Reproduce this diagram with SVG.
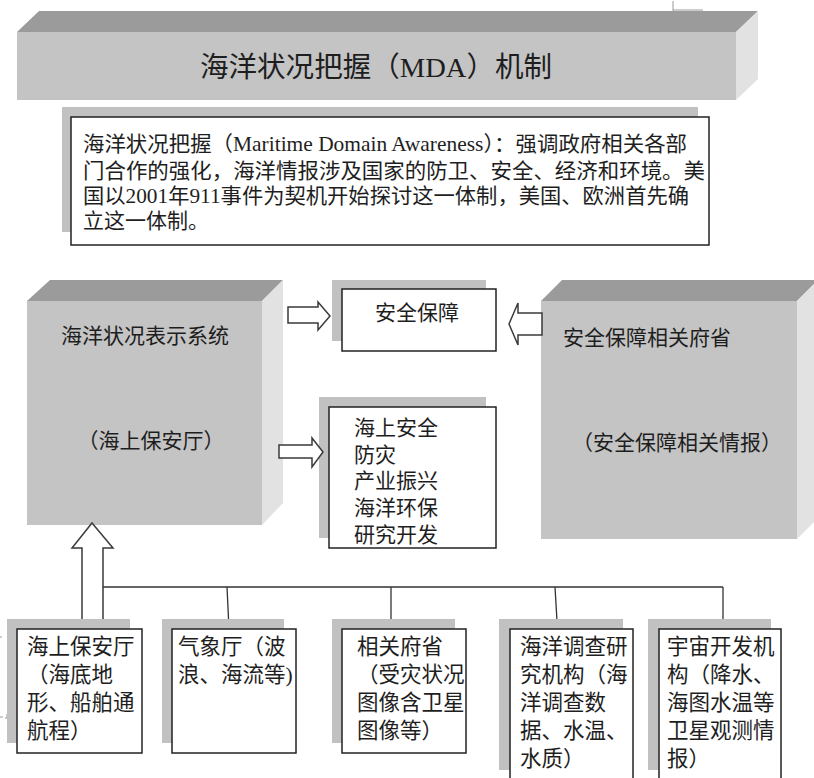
<svg xmlns="http://www.w3.org/2000/svg" width="814" height="778" viewBox="0 0 814 778">
<defs>
<style>
.front{fill:#c4c4c4}
.top{fill:#9b9b9b}
.side{fill:#e2e2e2}
.shadow{fill:#c1c1c1}
.box{fill:#ffffff;stroke:#222222;stroke-width:1.5}
.arrow{fill:#ffffff;stroke:#3a3a3a;stroke-width:1.5;stroke-linejoin:miter}
.line{fill:none;stroke:#333333;stroke-width:1.3}
.art{fill:none;stroke:#9a9a9a;stroke-width:1}
text{font-family:"Liberation Serif","Noto Sans CJK SC",serif;fill:#1e1e1e}
.t21{font-size:21px}
.t22{font-size:21.5px}
</style>
</defs>
<rect width="814" height="778" fill="#ffffff"/>

<!-- artifacts -->
<path class="art" d="M673,1 V11 M673,10 H703"/>
<path class="art" d="M0,637 H2 M0,717 H3 M7,714 V718 H5"/>
<path class="art" d="M652,680 H657"/>

<g id="banner">
<polygon class="top" points="17,32 39,11 758,11 736,32"/>
<polygon class="side" points="736,32 758,11 758,79 736,100"/>
<rect class="front" x="17" y="32" width="719" height="68"/>
<text x="200" y="77" font-size="28" textLength="352" lengthAdjust="spacingAndGlyphs">海洋状况把握（MDA）机制</text>
</g>

<g id="definition">
<rect class="shadow" x="62" y="107" width="636" height="125"/>
<rect class="box" x="71" y="117" width="638" height="128"/>
<text class="t21" x="83" y="151" textLength="604" lengthAdjust="spacingAndGlyphs">海洋状况把握（Maritime Domain Awareness）：强调政府相关各部</text>
<text class="t21" x="83" y="178" textLength="622" lengthAdjust="spacingAndGlyphs">门合作的强化，海洋情报涉及国家的防卫、安全、经济和环境。美</text>
<text class="t21" x="83" y="203" textLength="606" lengthAdjust="spacingAndGlyphs">国以2001年911事件为契机开始探讨这一体制，美国、欧洲首先确</text>
<text class="t21" x="83" y="228">立这一体制。</text>
</g>

<g id="msi-system">
<polygon class="top" points="27,301 50,280 283,280 262,301"/>
<polygon class="side" points="262,301 283,280 283,503 262,525"/>
<rect class="front" x="27" y="301" width="235" height="224"/>
<text class="t21" x="145" y="343" text-anchor="middle">海洋状况表示系统</text>
<text class="t21" x="151" y="448" text-anchor="middle">（海上保安厅）</text>
</g>

<g id="security-ministries">
<polygon class="top" points="541,301 562,280 818,280 797,301"/>
<polygon class="side" points="797,301 818,280 818,518 797,539"/>
<rect class="front" x="541" y="301" width="256" height="238"/>
<text class="t21" x="563" y="345">安全保障相关府省</text>
<text class="t21" x="677" y="450" text-anchor="middle">（安全保障相关情报）</text>
</g>

<g id="security">
<rect class="shadow" x="332" y="280" width="154" height="61"/>
<rect class="box" x="342" y="289" width="154" height="62"/>
<text class="t21" x="417" y="320" text-anchor="middle">安全保障</text>
</g>

<g id="uses">
<rect class="shadow" x="319" y="397" width="167" height="141"/>
<rect class="box" x="329" y="407" width="167" height="141"/>
<text class="t21" x="354" y="435">海上安全</text>
<text class="t21" x="354" y="462">防灾</text>
<text class="t21" x="354" y="488">产业振兴</text>
<text class="t21" x="354" y="515">海洋环保</text>
<text class="t21" x="354" y="542">研究开发</text>
</g>

<g id="connectors">
<path class="line" d="M103,587 H723 M227,587 L229,629 M391,587 V621 M555,587 L557,621 M723,587 V621"/>
<polygon class="arrow" points="92,523 113,548 103,548 103,621 82,621 82,548 72,548"/>
<polygon class="arrow" points="288,307 318,307 318,302 330,316 318,330 318,323 288,323"/>
<polygon class="arrow" points="279,445 312,445 312,438 323,452 312,467 312,458 279,458"/>
<polygon class="arrow" points="542,313 518,313 518,303 509,324 518,345 518,335 542,335"/>
</g>

<g id="coast-guard">
<rect class="shadow" x="7" y="619" width="123" height="124"/>
<rect class="box" x="17" y="629" width="125" height="124"/>
<text class="t22" x="27" y="654">海上保安厅</text>
<text class="t22" x="27" y="682">（海底地</text>
<text class="t22" x="27" y="710">形、船舶通</text>
<text class="t22" x="27" y="738">航程）</text>
</g>

<g id="meteorological">
<rect class="shadow" x="162" y="619" width="122" height="124"/>
<rect class="box" x="172" y="629" width="124" height="124"/>
<text class="t22" x="178" y="654">气象厅（波</text>
<text class="t22" x="178" y="682">浪、海流等)</text>
</g>

<g id="ministries">
<rect class="shadow" x="332" y="619" width="123" height="124"/>
<rect class="box" x="342" y="629" width="124" height="124"/>
<text class="t22" x="357" y="654">相关府省</text>
<text class="t22" x="357" y="682">（受灾状况</text>
<text class="t22" x="357" y="710">图像含卫星</text>
<text class="t22" x="357" y="738">图像等）</text>
</g>

<g id="ocean-research">
<rect class="shadow" x="499" y="619" width="124" height="151"/>
<rect class="box" x="510" y="629" width="123" height="152"/>
<text class="t22" x="520" y="654">海洋调查研</text>
<text class="t22" x="520" y="682">究机构（海</text>
<text class="t22" x="520" y="710">洋调查数</text>
<text class="t22" x="520" y="738">据、水温、</text>
<text class="t22" x="520" y="766">水质）</text>
</g>

<g id="space-agency">
<rect class="shadow" x="648" y="619" width="123" height="151"/>
<rect class="box" x="659" y="629" width="122" height="152"/>
<text class="t22" x="667" y="654">宇宙开发机</text>
<text class="t22" x="667" y="682">构（降水、</text>
<text class="t22" x="667" y="710">海图水温等</text>
<text class="t22" x="667" y="738">卫星观测情</text>
<text class="t22" x="667" y="766">报）</text>
</g>
</svg>
